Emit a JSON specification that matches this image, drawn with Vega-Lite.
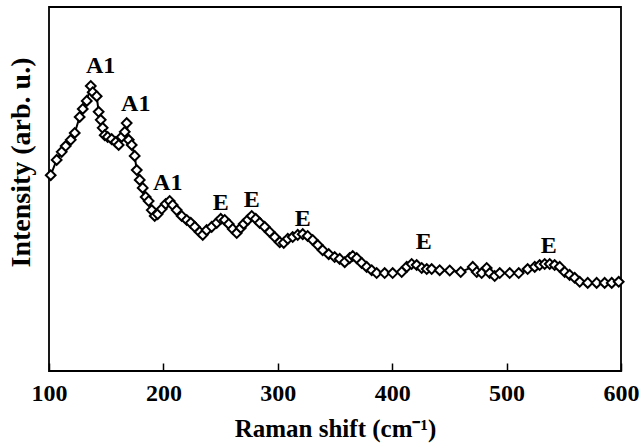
{
  "$schema": "https://vega.github.io/schema/vega-lite/v6.json",
  "width": 572,
  "height": 364,
  "autosize": {"type": "none"},
  "padding": {"left": 49, "top": 7, "right": 19, "bottom": 76},
  "background": "white",
  "config": {
    "view": {"stroke": "black", "strokeWidth": 1.8},
    "font": "Liberation Serif"
  },
  "datasets": {
    "spectrum": [
      {"shift": 101.5, "intensity": 53.8}, {"shift": 106.7, "intensity": 58.0},
      {"shift": 111.1, "intensity": 60.2}, {"shift": 114.6, "intensity": 61.8},
      {"shift": 119.0, "intensity": 63.5}, {"shift": 122.5, "intensity": 65.4},
      {"shift": 126.8, "intensity": 69.8}, {"shift": 129.5, "intensity": 72.0},
      {"shift": 133.0, "intensity": 74.2}, {"shift": 136.5, "intensity": 78.3},
      {"shift": 138.2, "intensity": 76.6}, {"shift": 141.7, "intensity": 75.5},
      {"shift": 143.4, "intensity": 71.2}, {"shift": 145.2, "intensity": 69.0},
      {"shift": 146.9, "intensity": 66.8}, {"shift": 148.7, "intensity": 64.8},
      {"shift": 151.3, "intensity": 64.3}, {"shift": 154.8, "intensity": 63.7},
      {"shift": 158.3, "intensity": 62.9}, {"shift": 160.9, "intensity": 62.1},
      {"shift": 163.5, "intensity": 64.3}, {"shift": 166.2, "intensity": 65.7},
      {"shift": 167.9, "intensity": 68.1}, {"shift": 169.7, "intensity": 63.5},
      {"shift": 172.3, "intensity": 62.1}, {"shift": 174.9, "intensity": 59.1},
      {"shift": 176.7, "intensity": 55.2}, {"shift": 179.3, "intensity": 52.5},
      {"shift": 181.9, "intensity": 50.3}, {"shift": 184.5, "intensity": 47.8},
      {"shift": 187.1, "intensity": 46.7}, {"shift": 189.8, "intensity": 44.2},
      {"shift": 192.4, "intensity": 42.6}, {"shift": 195.0, "intensity": 43.1},
      {"shift": 198.5, "intensity": 44.5}, {"shift": 202.0, "intensity": 45.9},
      {"shift": 205.5, "intensity": 46.7}, {"shift": 208.1, "intensity": 45.6},
      {"shift": 211.6, "intensity": 44.2}, {"shift": 216.0, "intensity": 42.6},
      {"shift": 220.4, "intensity": 41.5}, {"shift": 223.9, "intensity": 40.7},
      {"shift": 227.4, "intensity": 39.6}, {"shift": 231.7, "intensity": 38.2},
      {"shift": 234.4, "intensity": 37.4}, {"shift": 237.8, "intensity": 38.7},
      {"shift": 242.2, "intensity": 39.6}, {"shift": 246.6, "intensity": 40.7},
      {"shift": 250.1, "intensity": 41.8}, {"shift": 253.6, "intensity": 41.5},
      {"shift": 257.1, "intensity": 40.4}, {"shift": 260.6, "intensity": 39.0},
      {"shift": 264.1, "intensity": 37.9}, {"shift": 267.6, "intensity": 39.3},
      {"shift": 270.2, "intensity": 40.4}, {"shift": 273.7, "intensity": 41.5},
      {"shift": 277.2, "intensity": 42.6}, {"shift": 280.7, "intensity": 41.8},
      {"shift": 284.2, "intensity": 40.7}, {"shift": 288.5, "intensity": 39.6},
      {"shift": 292.9, "intensity": 38.2}, {"shift": 297.3, "intensity": 36.8},
      {"shift": 301.7, "intensity": 35.4}, {"shift": 305.2, "intensity": 35.2},
      {"shift": 308.7, "intensity": 36.3}, {"shift": 313.0, "intensity": 36.8},
      {"shift": 317.4, "intensity": 37.4}, {"shift": 321.8, "intensity": 37.6},
      {"shift": 326.1, "intensity": 37.1}, {"shift": 330.5, "intensity": 36.0},
      {"shift": 334.9, "intensity": 34.6}, {"shift": 339.2, "intensity": 33.2},
      {"shift": 344.5, "intensity": 32.1}, {"shift": 349.7, "intensity": 31.3},
      {"shift": 354.1, "intensity": 30.8}, {"shift": 358.5, "intensity": 29.9},
      {"shift": 362.8, "intensity": 31.0}, {"shift": 365.5, "intensity": 31.6},
      {"shift": 369.0, "intensity": 31.0}, {"shift": 373.3, "intensity": 29.7},
      {"shift": 377.7, "intensity": 28.6}, {"shift": 382.1, "intensity": 27.7},
      {"shift": 386.4, "intensity": 26.9}, {"shift": 393.4, "intensity": 26.9},
      {"shift": 400.4, "intensity": 26.9}, {"shift": 408.3, "intensity": 27.2},
      {"shift": 412.7, "intensity": 28.6}, {"shift": 417.0, "intensity": 29.4},
      {"shift": 421.4, "intensity": 29.1}, {"shift": 425.8, "intensity": 28.3},
      {"shift": 430.2, "intensity": 28.0}, {"shift": 434.5, "intensity": 28.0},
      {"shift": 441.5, "intensity": 27.7}, {"shift": 450.3, "intensity": 27.6},
      {"shift": 459.9, "intensity": 27.2}, {"shift": 470.4, "intensity": 28.6},
      {"shift": 473.9, "intensity": 27.2}, {"shift": 478.2, "intensity": 26.9},
      {"shift": 482.6, "intensity": 28.3}, {"shift": 485.2, "intensity": 26.9},
      {"shift": 489.6, "intensity": 26.1}, {"shift": 494.0, "intensity": 26.9},
      {"shift": 502.7, "intensity": 26.9}, {"shift": 510.6, "intensity": 26.9},
      {"shift": 518.4, "intensity": 28.0}, {"shift": 524.6, "intensity": 28.6},
      {"shift": 528.9, "intensity": 29.1}, {"shift": 533.3, "intensity": 29.4},
      {"shift": 537.7, "intensity": 29.4}, {"shift": 542.0, "intensity": 29.1},
      {"shift": 546.4, "intensity": 28.6}, {"shift": 550.8, "intensity": 27.2},
      {"shift": 555.1, "intensity": 26.4}, {"shift": 559.5, "intensity": 25.6},
      {"shift": 563.9, "intensity": 24.5}, {"shift": 570.9, "intensity": 24.2},
      {"shift": 578.7, "intensity": 24.2}, {"shift": 585.7, "intensity": 24.2},
      {"shift": 591.9, "intensity": 24.2}, {"shift": 598.0, "intensity": 24.5}
    ],
    "modes": [
      {"shift": 145.2, "intensity": 83.8, "mode": "A1"},
      {"shift": 175.8, "intensity": 73.3, "mode": "A1"},
      {"shift": 203.8, "intensity": 51.6, "mode": "A1"},
      {"shift": 250.1, "intensity": 46.1, "mode": "E"},
      {"shift": 277.2, "intensity": 47.0, "mode": "E"},
      {"shift": 321.8, "intensity": 41.8, "mode": "E"},
      {"shift": 427.5, "intensity": 35.4, "mode": "E"},
      {"shift": 536.9, "intensity": 34.3, "mode": "E"}
    ]
  },
  "encoding": {
    "x": {
      "field": "shift",
      "type": "quantitative",
      "scale": {"domain": [100, 600], "nice": false, "zero": false},
      "axis": {
        "title": "Raman shift (cm⁻¹)",
        "values": [100, 200, 300, 400, 500, 600],
        "grid": false,
        "domain": false,
        "tickColor": "black",
        "tickSize": -8,
        "tickWidth": 1.5,
        "labelFont": "Liberation Serif",
        "labelFontWeight": "bold",
        "labelFontSize": 24,
        "labelColor": "black",
        "labelPadding": 18,
        "labelFlush": false,
        "titleFont": "Liberation Serif",
        "titleFontWeight": "bold",
        "titleFontSize": 25,
        "titleColor": "black",
        "titlePadding": 11
      }
    },
    "y": {
      "field": "intensity",
      "type": "quantitative",
      "scale": {"domain": [0, 100], "nice": false},
      "axis": {
        "title": "Intensity (arb. u.)",
        "grid": false,
        "domain": false,
        "ticks": false,
        "labels": false,
        "titleFont": "Liberation Serif",
        "titleFontWeight": "bold",
        "titleFontSize": 28,
        "titleColor": "black",
        "titleY": 155,
        "titleX": -14
      }
    }
  },
  "layer": [
    {
      "data": {"name": "spectrum"},
      "mark": {"type": "line", "color": "black", "strokeWidth": 2}
    },
    {
      "data": {"name": "spectrum"},
      "mark": {
        "type": "point",
        "shape": "diamond",
        "size": 95,
        "filled": false,
        "fill": "white",
        "fillOpacity": 1,
        "stroke": "black",
        "strokeWidth": 2,
        "opacity": 1
      }
    },
    {
      "data": {"name": "modes"},
      "mark": {
        "type": "text",
        "font": "Liberation Serif",
        "fontWeight": "bold",
        "fontSize": 24,
        "color": "black",
        "align": "center",
        "baseline": "middle"
      },
      "encoding": {"text": {"field": "mode"}}
    }
  ]
}
